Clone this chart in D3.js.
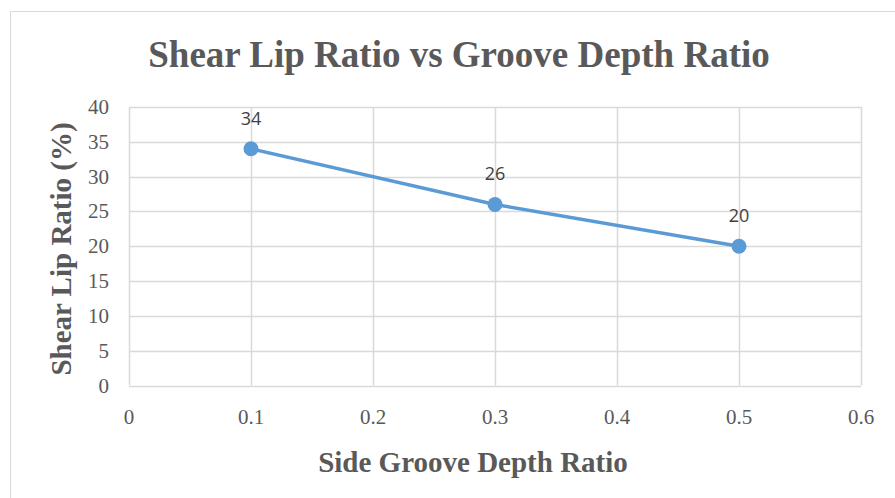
<!DOCTYPE html>
<html>
<head>
<meta charset="utf-8">
<script src="https://cdn.jsdelivr.net/npm/d3@7"></script>
<style>
  body { margin: 0; background: #fff; }
</style>
</head>
<body>
<div id="chart"></div>
<script>
(() => {
  // Chart data
  const grooveDepth = [0.1, 0.3, 0.5];
  const shearLip = [34, 26, 20];
  const xTicks = [0, 0.1, 0.2, 0.3, 0.4, 0.5, 0.6];
  const yTicks = [0, 5, 10, 15, 20, 25, 30, 35, 40];

  const width = 895, height = 498;
  const margin = { top: 107, right: 32, bottom: 112, left: 129 };
  const serif = "'Liberation Serif', 'Times New Roman', serif";
  const grey = "#595959";

  const svg = d3.select("#chart").append("svg")
    .attr("width", width)
    .attr("height", height);

  // Outer chart border
  svg.append("rect")
    .attr("x", 10.5).attr("y", 11.5)
    .attr("width", width).attr("height", height)
    .attr("fill", "none")
    .attr("stroke", "#d9d9d9");

  const x = d3.scaleLinear().domain([0, 0.6]).range([margin.left, width - margin.right - 2]);
  const y = d3.scaleLinear().domain([0, 40]).range([height - margin.bottom - 0.5, margin.top]);

  // Gridlines
  svg.append("g").selectAll("line.h")
    .data(yTicks)
    .join("line")
    .attr("x1", x(0)).attr("x2", x(0.6))
    .attr("y1", d => Math.round(y(d)) + 0.5).attr("y2", d => Math.round(y(d)) + 0.5)
    .attr("stroke", "#d9d9d9").attr("stroke-width", 1.5);

  svg.append("g").selectAll("line.v")
    .data(xTicks)
    .join("line")
    .attr("x1", d => Math.round(x(d)) + 0.5).attr("x2", d => Math.round(x(d)) + 0.5)
    .attr("y1", y(0)).attr("y2", y(40))
    .attr("stroke", "#d9d9d9").attr("stroke-width", 1.5);

  // Tick labels
  svg.append("g").selectAll("text")
    .data(yTicks)
    .join("text")
    .attr("x", x(0) - 20)
    .attr("y", d => y(d) + 7)
    .attr("text-anchor", "end")
    .attr("font-family", serif)
    .attr("font-size", "21px")
    .attr("fill", grey)
    .text(d => d);

  svg.append("g").selectAll("text")
    .data(xTicks)
    .join("text")
    .attr("x", d => x(d))
    .attr("y", y(0) + 38)
    .attr("text-anchor", "middle")
    .attr("font-family", serif)
    .attr("font-size", "21px")
    .attr("fill", grey)
    .text(d => d);

  // Series line and markers
  const pts = grooveDepth.map((g, i) => [g, shearLip[i]]);
  const line = d3.line().x(d => x(d[0])).y(d => y(d[1]));

  svg.append("path")
    .datum(pts)
    .attr("fill", "none")
    .attr("stroke", "#5b9bd5")
    .attr("stroke-width", 3.5)
    .attr("stroke-linecap", "round")
    .attr("d", line);

  svg.append("g").selectAll("circle")
    .data(pts)
    .join("circle")
    .attr("cx", d => x(d[0]))
    .attr("cy", d => y(d[1]))
    .attr("r", 7.5)
    .attr("fill", "#5b9bd5");

  svg.append("g").selectAll("text")
    .data(pts)
    .join("text")
    .attr("x", d => x(d[0]))
    .attr("y", d => y(d[1]) - 24)
    .attr("text-anchor", "middle")
    .attr("font-family", "'Open Sans', 'Liberation Sans', sans-serif")
    .attr("font-size", "18px")
    .attr("fill", "#404040")
    .text(d => d[1]);

  // Titles
  svg.append("text")
    .attr("x", 459).attr("y", 67)
    .attr("text-anchor", "middle")
    .attr("font-family", serif)
    .attr("font-weight", "bold")
    .attr("font-size", "37px")
    .attr("fill", grey)
    .text("Shear Lip Ratio vs Groove Depth Ratio");

  svg.append("text")
    .attr("x", 473).attr("y", 472)
    .attr("text-anchor", "middle")
    .attr("font-family", serif)
    .attr("font-weight", "bold")
    .attr("font-size", "29px")
    .attr("fill", grey)
    .text("Side Groove Depth Ratio");

  svg.append("text")
    .attr("transform", "translate(71,249) rotate(-90)")
    .attr("text-anchor", "middle")
    .attr("font-family", serif)
    .attr("font-weight", "bold")
    .attr("font-size", "29px")
    .attr("fill", grey)
    .text("Shear Lip Ratio (%)");
})();
</script>
</body>
</html>
